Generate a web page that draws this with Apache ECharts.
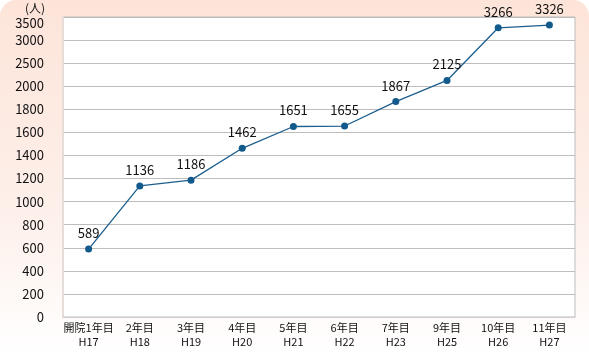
<!DOCTYPE html>
<html><head><meta charset="utf-8">
<script src="https://cdn.jsdelivr.net/npm/echarts@6/dist/echarts.min.js"></script>
<style>html,body{margin:0;padding:0;background:#fff}#c{width:589px;height:354px}</style>
</head><body><div id="c"></div>
<script>
const categories = ['開院1年目\nH17','2年目\nH18','3年目\nH19','4年目\nH20','5年目\nH21','6年目\nH22','7年目\nH23','9年目\nH25','10年目\nH26','11年目\nH27'];
const values = [589, 1136, 1186, 1462, 1651, 1655, 1867, 2125, 3266, 3326];
const yTickLabels = [0,200,400,600,800,1000,1200,1400,1600,1800,2000,2500,3000,3500];

// broken scale: 200 per step up to 2000, then 500 per step
function toPos(v){ return v <= 2000 ? v/200 : 10 + (v-2000)/500; }

const chart = echarts.init(document.getElementById('c'));
const font = '"Noto Sans CJK JP", "Noto Sans", sans-serif';
chart.setOption({
  animation:false,
  textStyle:{fontFamily:font},
  graphic:[{
    type:'rect', z:-10, silent:true,
    shape:{x:0,y:0,width:589,height:354,r:[16,16,0,0]},
    style:{fill:new echarts.graphic.LinearGradient(0,0,0,1,[
      {offset:0,color:'#fde4d9'},{offset:0.6,color:'#fdf0ea'},{offset:1,color:'#ffffff'}])}
  },{
    type:'text', left:25, top:2, silent:true,
    style:{text:'(人)', font:'12px '+font, fill:'#111'}
  }],
  grid:{left:63,right:14,top:17,bottom:37,show:true,backgroundColor:'#fff',borderColor:'#bdbdbd',borderWidth:1},
  xAxis:{
    type:'category', data:categories, boundaryGap:true,
    axisLine:{lineStyle:{color:'#cfcfcf',width:1}},
    axisTick:{inside:true,length:9,lineStyle:{color:'#cfcfcf'}},
    axisLabel:{color:'#111',fontSize:11,lineHeight:14,margin:4,interval:0,fontFamily:font}
  },
  yAxis:{
    type:'value', min:0, max:13, interval:1,
    axisLine:{show:true,lineStyle:{color:'#e6dcd8',width:2}},
    axisTick:{show:false},
    splitLine:{lineStyle:{color:'#bdbdbd',width:1}},
    axisLabel:{color:'#111',fontSize:13,margin:19,fontFamily:font,
      rich:{d:{fontSize:13,color:'#111',padding:[12,0,0,0],fontFamily:font}},
      formatter:function(v){ const i=Math.round(v); return i===13 ? '{d|'+yTickLabels[i]+'}' : String(yTickLabels[i]); }}
  },
  series:[{
    type:'line',
    data:values.map(v=>toPos(v)),
    symbol:'circle', symbolSize:7,
    lineStyle:{color:'#1b5e8e',width:1.3},
    itemStyle:{color:'#135a8c'},
    label:{show:true,position:'top',distance:6,color:'#111',fontSize:13,fontFamily:font,
      formatter:function(p){ return values[p.dataIndex]; }}
  }]
});
</script></body></html>
